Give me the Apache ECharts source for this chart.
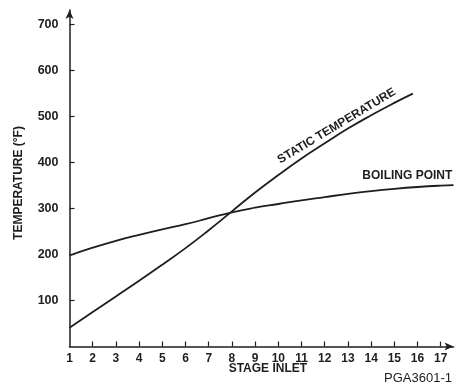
<!DOCTYPE html>
<html>
<head>
<meta charset="utf-8">
<script src="https://cdn.jsdelivr.net/npm/echarts@6/dist/echarts.min.js"></script>
<style>
  html, body { margin: 0; padding: 0; background: #ffffff; }
  #chart { width: 456px; height: 386px; }
</style>
</head>
<body>
<div id="chart"></div>
<script>
// Stage numbers along the compressor (x) and temperatures in °F (y)
const stageTicks = [1, 2, 3, 4, 5, 6, 7, 8, 9, 10, 11, 12, 13, 14, 15, 16, 17];
const tempTicks = [100, 200, 300, 400, 500, 600, 700];

const staticStages = [1, 2, 3, 4, 5, 6, 7, 8, 9, 10, 11, 12, 13, 14, 15, 15.8];
const staticTemp = [41, 75, 109, 143, 178, 214, 253, 294, 335, 373, 409, 442, 474, 503, 530, 550];

const boilingStages = [1, 2, 3, 4, 5, 6, 7, 8, 9, 10, 11, 12, 13, 14, 15, 16, 17, 17.55];
const boilingTemp = [198, 215, 230, 243, 255, 266, 279, 292, 302, 310, 318, 325, 332, 338, 343, 347, 350, 351];

const ink = '#1e1e1e';
const fontFamily = 'Liberation Sans, Arial, sans-serif';

function pairs(xs, ys) {
  return xs.map((x, i) => [x, ys[i]]);
}

const chart = echarts.init(document.getElementById('chart'), null, { renderer: 'canvas' });

const option = {
  backgroundColor: '#ffffff',
  animation: false,
  grid: { left: 69.5, right: 2.5, top: 10, bottom: 39.5, containLabel: false },
  xAxis: {
    type: 'value',
    min: 1,
    max: 17.55,
    interval: 1,
    splitLine: { show: false },
    axisLine: { show: true, onZero: false, symbol: ['none', 'arrow'], symbolSize: [6, 9], lineStyle: { color: ink, width: 1.5 } },
    axisTick: { show: true, inside: true, length: 5, customValues: stageTicks.slice(1), lineStyle: { color: ink, width: 1.2 } },
    axisLabel: {
      customValues: stageTicks,
      color: ink, fontFamily: fontFamily, fontWeight: 'bold', fontSize: 12, margin: 6
    }
  },
  yAxis: {
    type: 'value',
    min: 0,
    max: 732,
    interval: 100,
    splitLine: { show: false },
    axisLine: { show: true, onZero: false, symbol: ['none', 'arrow'], symbolSize: [6, 9], lineStyle: { color: ink, width: 1.5 } },
    axisTick: { show: true, inside: true, length: 5, customValues: tempTicks, lineStyle: { color: ink, width: 1.2 } },
    axisLabel: {
      customValues: tempTicks,
      color: ink, fontFamily: fontFamily, fontWeight: 'bold', fontSize: 12.5, margin: 11
    }
  },
  series: [
    {
      name: 'STATIC TEMPERATURE',
      type: 'line',
      smooth: 0.5,
      showSymbol: false,
      data: pairs(staticStages, staticTemp),
      lineStyle: { color: ink, width: 1.8 }
    },
    {
      name: 'BOILING POINT',
      type: 'line',
      smooth: 0.5,
      showSymbol: false,
      data: pairs(boilingStages, boilingTemp),
      lineStyle: { color: ink, width: 1.8 }
    }
  ]
};

chart.setOption(option);

// Curve captions and axis titles placed from data coordinates
const staticAt = chart.convertToPixel({ gridIndex: 0 }, [12.6, 458]);
const boilingEnd = chart.convertToPixel({ gridIndex: 0 }, [17.5, 351]);
const stageMid = chart.convertToPixel({ gridIndex: 0 }, [9.55, 0]);

chart.setOption({
  graphic: [
    {
      type: 'text',
      x: staticAt[0] - 2,
      y: staticAt[1] - 10,
      rotation: 31 * Math.PI / 180,
      style: {
        text: 'STATIC TEMPERATURE',
        fill: ink, font: 'bold 12px ' + fontFamily,
        align: 'center', verticalAlign: 'middle'
      }
    },
    {
      type: 'text',
      x: boilingEnd[0],
      y: boilingEnd[1] - 3,
      style: {
        text: 'BOILING POINT',
        fill: ink, font: 'bold 12px ' + fontFamily,
        align: 'right', verticalAlign: 'bottom'
      }
    },
    {
      type: 'text',
      x: stageMid[0],
      y: 369,
      style: {
        text: 'STAGE INLET',
        fill: ink, font: 'bold 12px ' + fontFamily,
        align: 'center', verticalAlign: 'middle'
      }
    },
    {
      type: 'text',
      x: 19,
      y: 183,
      rotation: Math.PI / 2,
      style: {
        text: 'TEMPERATURE (°F)',
        fill: ink, font: 'bold 12px ' + fontFamily,
        align: 'center', verticalAlign: 'middle'
      }
    },
    {
      type: 'text',
      x: 452,
      y: 378,
      style: {
        text: 'PGA3601-1',
        fill: ink, font: '13px ' + fontFamily,
        align: 'right', verticalAlign: 'middle'
      }
    }
  ]
});
</script>
</body>
</html>
